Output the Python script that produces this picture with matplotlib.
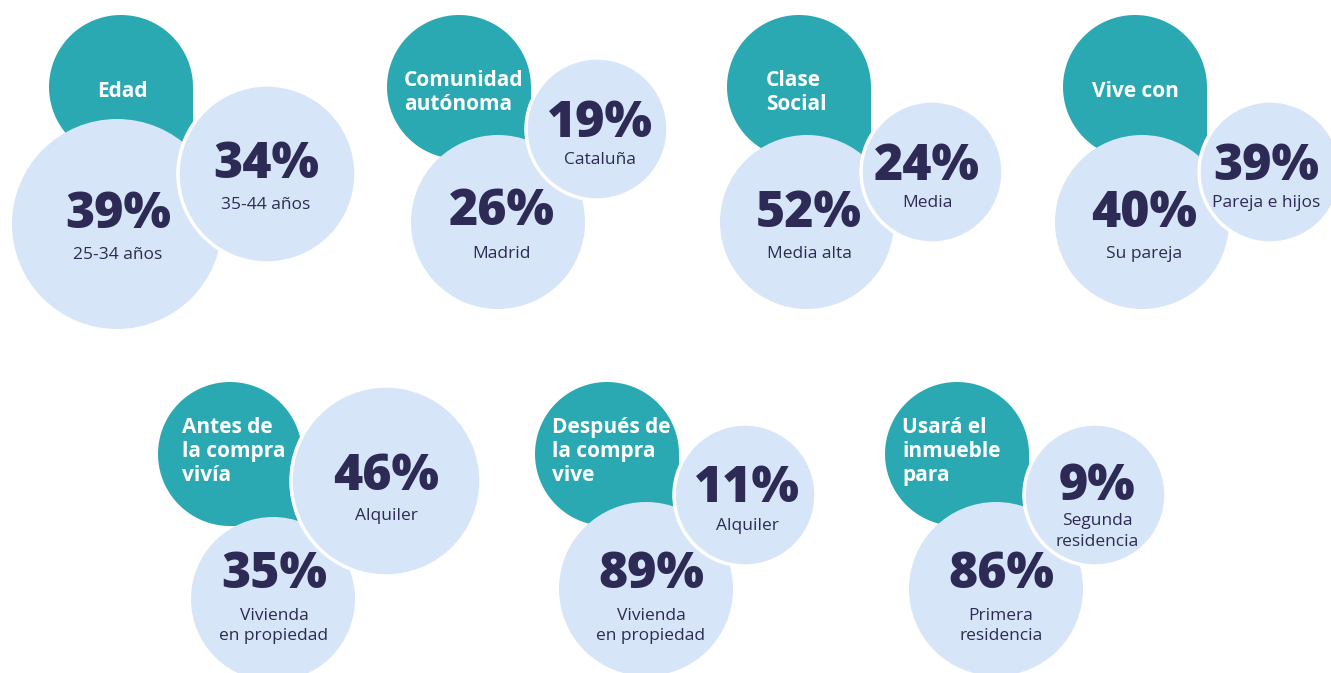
import numpy as np
import matplotlib
matplotlib.use("Agg")
import matplotlib.pyplot as plt
from matplotlib.patches import Circle, Polygon

plt.rcParams['font.family'] = ['Open Sans', 'DejaVu Sans']

# data
titles = ["Edad", "Comunidad\nautónoma", "Clase\nSocial", "Vive con",
          "Antes de\nla compra\nvivía", "Después de\nla compra\nvive", "Usará el\ninmueble\npara"]
main_values = [39, 26, 52, 40, 35, 89, 86]
main_labels = ["25-34 años", "Madrid", "Media alta", "Su pareja",
               "Vivienda\nen propiedad", "Vivienda\nen propiedad", "Primera\nresidencia"]
side_values = [34, 19, 24, 39, 46, 11, 9]
side_labels = ["35-44 años", "Cataluña", "Media", "Pareja e hijos",
               "Alquiler", "Alquiler", "Segunda\nresidencia"]

# layout (pixel coords, y down)
teal_pos = [(121, 87), (459, 87), (799, 87), (1135, 87), (230, 454), (607, 454), (957, 454)]
title_pos = [(97, 97), (404, 86), (766, 86), (1092, 97), (182, 433), (552, 433), (902, 433)]
# (cx, cy, r, text_x, pct_baseline, label_baseline)
main_pos = [(117, 224, 105, 118, 228, 259), (498, 222, 87, 502, 225, 258),
            (807, 222, 87, 809, 227, 258), (1142, 222, 87, 1144, 227, 258),
            (273, 599, 82, 274, 588, 620), (646, 589, 87, 651, 588, 620),
            (996, 589, 87, 1001, 588, 620)]
side_pos = [(267, 174, 89, 266, 178, 209), (597, 129, 71, 600, 137, 164),
            (932, 172, 71, 927, 180, 207), (1270, 172, 71, 1266, 180, 207),
            (386, 481, 95, 386, 490, 520), (745, 495, 71, 747, 502, 530),
            (1095, 495, 71, 1097, 500, 525)]

TEAL = "#2ba9b3"
LIGHT = "#d6e5f7"
NAVY = "#2d2b55"
R_TEAL = 72

fig = plt.figure(figsize=(13.31, 6.73), dpi=100)
ax = fig.add_axes([0, 0, 1, 1])
ax.set_xlim(0, 1331)
ax.set_ylim(673, 0)
ax.set_aspect("equal")
ax.axis("off")


def teal_shape(cx, cy, r):
    # circle with a square bottom-right corner
    th = np.linspace(np.pi / 2, 2 * np.pi, 120)
    pts = np.column_stack([cx + r * np.cos(th), cy + r * np.sin(th)])
    pts = np.vstack([pts, [cx + r, cy + r]])
    return Polygon(pts, closed=True, facecolor=TEAL, edgecolor="none", zorder=1)


def bubble(pos, value, label, edge, z):
    cx, cy, r, tx, pb, lb = pos
    ax.add_patch(Circle((cx, cy), r, facecolor=LIGHT,
                        edgecolor="white" if edge else "none", lw=2.5, zorder=z))
    ax.text(tx, pb, f"{value}%", ha="center", va="baseline", fontsize=36,
            fontweight="heavy", color=NAVY, zorder=z + 0.5)
    for i, line in enumerate(label.split("\n")):
        ax.text(tx, lb + i * 20.5, line, ha="center", va="baseline", fontsize=12.5,
                color=NAVY, zorder=z + 0.5)


for g in range(len(titles)):
    tx, ty = teal_pos[g]
    ax.add_patch(teal_shape(tx, ty, R_TEAL))
    lx, ly = title_pos[g]
    for i, line in enumerate(titles[g].split("\n")):
        ax.text(lx, ly + i * 24, line, ha="left", va="baseline", fontsize=15,
                fontweight="bold", color="white", zorder=1.5)
    bubble(main_pos[g], main_values[g], main_labels[g], False, 2)
    bubble(side_pos[g], side_values[g], side_labels[g], True, 3)

fig.savefig("out.png", dpi=100)
